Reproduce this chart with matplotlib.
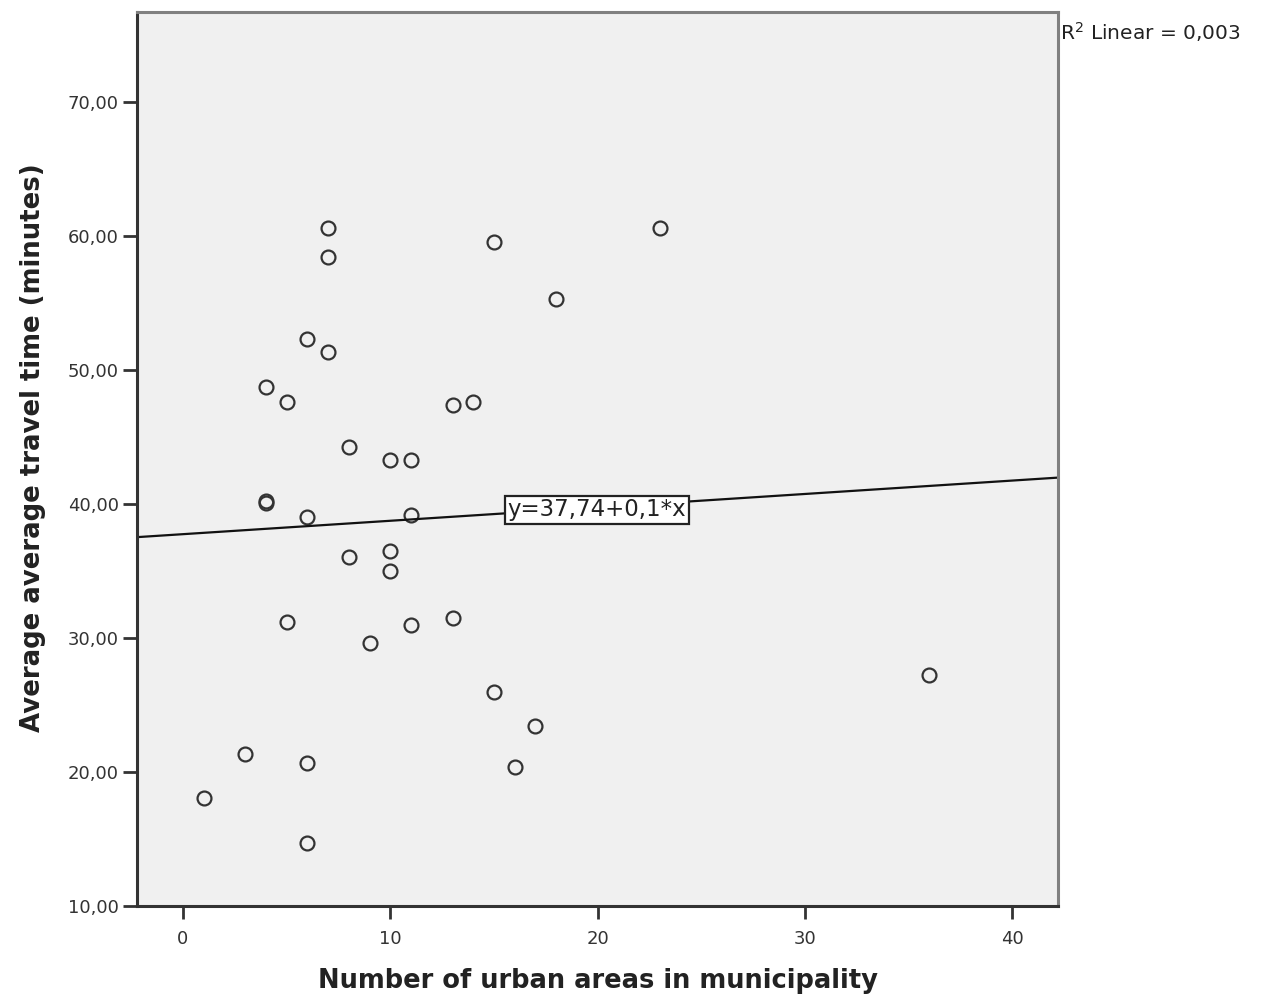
import matplotlib.pyplot as plt
import numpy as np

# datos
urban_areas = [1, 3, 4, 4, 4, 5, 5, 6, 6, 6, 6, 7, 7, 7, 8, 8, 9, 10, 10, 10,
               11, 11, 11, 13, 13, 14, 15, 15, 16, 17, 18, 23, 36]
travel_time = [18.05, 21.35, 48.75, 40.25, 40.05, 47.6, 31.2, 52.3, 39.0, 20.7,
               14.7, 60.6, 58.45, 51.3, 44.25, 36.0, 29.6, 43.3, 36.5, 35.0,
               43.3, 39.2, 30.95, 47.4, 31.45, 47.6, 59.55, 25.95, 20.4, 23.4,
               55.3, 60.6, 27.2]
intercept = 37.74
slope = 0.1
x_ticks = [0, 10, 20, 30, 40]
y_ticks = [10, 20, 30, 40, 50, 60, 70]
y_tick_labels = ["10,00", "20,00", "30,00", "40,00", "50,00", "60,00", "70,00"]

fig = plt.figure(figsize=(12.68, 9.98), dpi=100)
ax = fig.add_axes([0.108, 0.0922, 0.7264, 0.8958])
ax.set_facecolor("#f0f0f0")

xmin, xmax = -2.22, 42.2
ax.set_xlim(xmin, xmax)
ax.set_ylim(10, 76.7)

# puntos
ax.plot(urban_areas, travel_time, linestyle="none", marker="o", markersize=10,
        markerfacecolor="none", markeredgecolor="#333333", markeredgewidth=1.6)

# recta de regresion
xs = np.array([xmin, xmax])
ax.plot(xs, intercept + slope * xs, color="#111111", linewidth=1.6)

ax.text(19.97, 39.55, "y=37,74+0,1*x", ha="center", va="center", fontsize=16.5,
        color="#222222",
        bbox=dict(boxstyle="square,pad=0.12", facecolor="white",
                  edgecolor="#222222", linewidth=1.6))

fig.text(0.8362, 0.968, r"R$^2$ Linear = 0,003", ha="left", va="center",
         fontsize=14.5, color="#222222")

ax.set_xticks(x_ticks)
ax.set_xticklabels([str(t) for t in x_ticks])
ax.set_yticks(y_ticks)
ax.set_yticklabels(y_tick_labels)
ax.tick_params(axis="x", length=9.5, width=2, color="#333333", labelsize=13,
               labelcolor="#333333", pad=8)
ax.tick_params(axis="y", length=10, width=2, color="#333333", labelsize=13,
               labelcolor="#333333", pad=3)

for lado in ["left", "bottom"]:
    ax.spines[lado].set_color("#333333")
    ax.spines[lado].set_linewidth(2.2)
for lado in ["top", "right"]:
    ax.spines[lado].set_color("#808080")
    ax.spines[lado].set_linewidth(2.2)

ax.set_xlabel("Number of urban areas in municipality", fontsize=18.5,
              fontweight="bold", color="#222222", labelpad=14)
ax.set_ylabel("Average average travel time (minutes)", fontsize=18.7,
              fontweight="bold", color="#222222")
ax.yaxis.set_label_coords(-0.099, 0.513)

fig.savefig("out.png", dpi=100, facecolor="white")
